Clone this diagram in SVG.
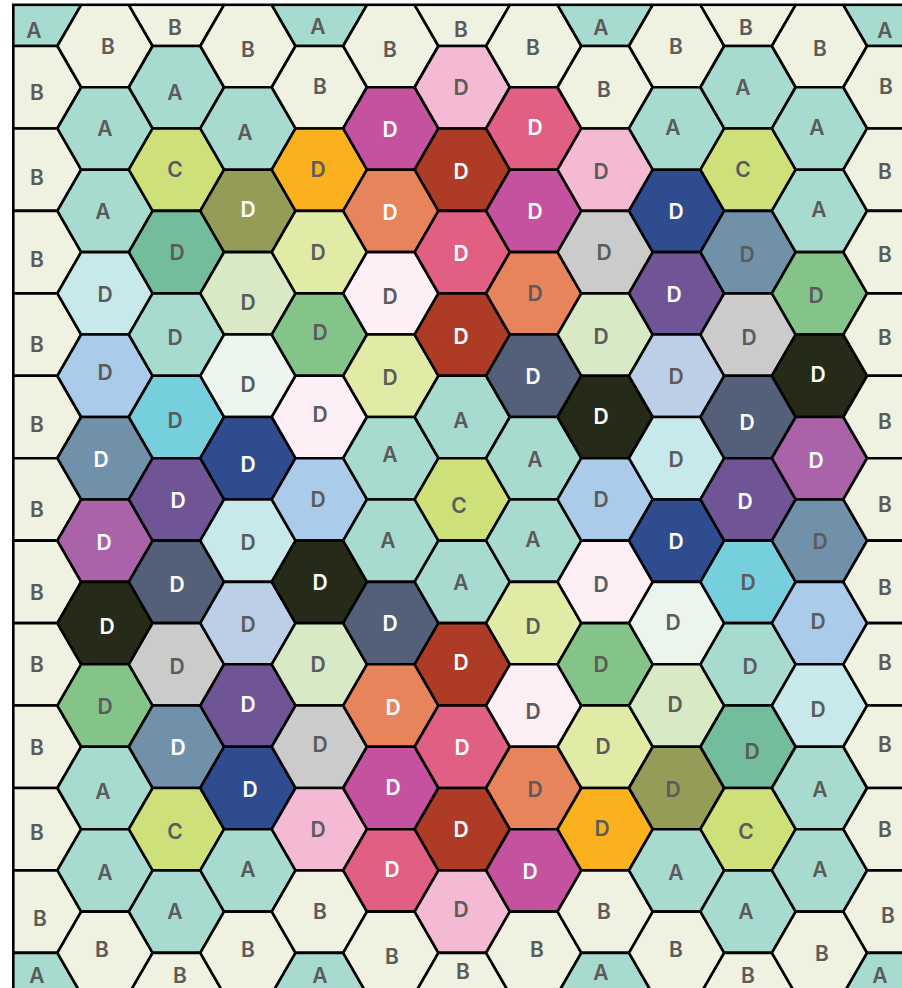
<svg xmlns="http://www.w3.org/2000/svg" xmlns:xlink="http://www.w3.org/1999/xlink" width="902" height="988" viewBox="0 0 902 988">
<style>
use{stroke:#000;stroke-width:2.6;stroke-linejoin:round}
text{font-family:"Inter","Lato","DejaVu Sans",sans-serif;font-size:21px;font-weight:600;fill:#5b5b5b;text-anchor:middle}
text.w{fill:#ffffff}
.A,.mi{fill:#a7dbd0}.B{fill:#eff2e0}.C{fill:#cee07a}
.lc{fill:#c8e9ec}.lb{fill:#aacbea}.sb{fill:#7191ab}.or{fill:#aa63a8}.vd{fill:#262b19}.gr{fill:#85c489}
.tg{fill:#73bd9c}.cy{fill:#75cfdc}.pu{fill:#6f5595}.sd{fill:#546079}.lg{fill:#cbcbcb}.ol{fill:#949c58}
.pg{fill:#d8e9c5}.vg{fill:#ebf5ee}.nv{fill:#2e4c8f}.pw{fill:#bccfe7}.og{fill:#fbb11d}.py{fill:#e2eba6}
.vp{fill:#fdeff5}.lp{fill:#f4bad3}.mg{fill:#c4529f}.sa{fill:#e8845b}.dr{fill:#ae3b26}.pr{fill:#e05f82}
</style>
<defs>
<polygon id="h" points="47.6,0 23.8,41.22 -23.8,41.22 -47.6,0 -23.8,-41.22 23.8,-41.22"/>
<clipPath id="clip"><rect x="13.3" y="4.8" width="950" height="1050"/></clipPath>
</defs>
<g id="cells" clip-path="url(#clip)">
<!-- col 0 -->
<g id="c0-0"><use href="#h" x="33.55" y="4.8" class="A"/><text x="34" y="38">A</text></g>
<g id="c0-1"><use href="#h" x="33.55" y="87.24" class="B"/><text x="37" y="100">B</text></g>
<g id="c0-2"><use href="#h" x="33.55" y="169.68" class="B"/><text x="37" y="185">B</text></g>
<g id="c0-3"><use href="#h" x="33.55" y="252.12" class="B"/><text x="37" y="267">B</text></g>
<g id="c0-4"><use href="#h" x="33.55" y="334.56" class="B"/><text x="37" y="352">B</text></g>
<g id="c0-5"><use href="#h" x="33.55" y="417" class="B"/><text x="37" y="432">B</text></g>
<g id="c0-6"><use href="#h" x="33.55" y="499.44" class="B"/><text x="37" y="517">B</text></g>
<g id="c0-7"><use href="#h" x="33.55" y="581.88" class="B"/><text x="37" y="600">B</text></g>
<g id="c0-8"><use href="#h" x="33.55" y="664.32" class="B"/><text x="37" y="672">B</text></g>
<g id="c0-9"><use href="#h" x="33.55" y="746.76" class="B"/><text x="37" y="755">B</text></g>
<g id="c0-10"><use href="#h" x="33.55" y="829.2" class="B"/><text x="37" y="840">B</text></g>
<g id="c0-11"><use href="#h" x="33.55" y="911.64" class="B"/><text x="40" y="926">B</text></g>
<g id="c0-12"><use href="#h" x="33.55" y="994.08" class="A"/><text x="37" y="983">A</text></g>
<!-- col 1 -->
<g id="c1-0"><use href="#h" x="105" y="46.02" class="B"/><text x="108" y="54">B</text></g>
<g id="c1-1"><use href="#h" x="105" y="128.46" class="A"/><text x="105" y="136">A</text></g>
<g id="c1-2"><use href="#h" x="105" y="210.9" class="A"/><text x="103" y="219">A</text></g>
<g id="c1-3"><use href="#h" x="105" y="293.34" class="lc"/><text x="105" y="302">D</text></g>
<g id="c1-4"><use href="#h" x="105" y="375.78" class="lb"/><text x="105" y="380">D</text></g>
<g id="c1-5"><use href="#h" x="105" y="458.22" class="sb"/><text class="w" x="101" y="467">D</text></g>
<g id="c1-6"><use href="#h" x="105" y="540.66" class="or"/><text class="w" x="104" y="550">D</text></g>
<g id="c1-7"><use href="#h" x="105" y="623.1" class="vd"/><text class="w" x="107" y="634">D</text></g>
<g id="c1-8"><use href="#h" x="105" y="705.54" class="gr"/><text x="105" y="714">D</text></g>
<g id="c1-9"><use href="#h" x="105" y="787.98" class="A"/><text x="103" y="799">A</text></g>
<g id="c1-10"><use href="#h" x="105" y="870.42" class="A"/><text x="105" y="880">A</text></g>
<g id="c1-11"><use href="#h" x="105" y="952.86" class="B"/><text x="102" y="957">B</text></g>
<!-- col 2 -->
<g id="c2-0"><use href="#h" x="176.45" y="4.8" class="B"/><text x="175" y="35">B</text></g>
<g id="c2-1"><use href="#h" x="176.45" y="87.24" class="A"/><text x="175" y="100">A</text></g>
<g id="c2-2"><use href="#h" x="176.45" y="169.68" class="C"/><text x="175" y="177">C</text></g>
<g id="c2-3"><use href="#h" x="176.45" y="252.12" class="tg"/><text x="177" y="260">D</text></g>
<g id="c2-4"><use href="#h" x="176.45" y="334.56" class="mi"/><text x="175" y="345">D</text></g>
<g id="c2-5"><use href="#h" x="176.45" y="417" class="cy"/><text x="175" y="428">D</text></g>
<g id="c2-6"><use href="#h" x="176.45" y="499.44" class="pu"/><text class="w" x="178" y="508">D</text></g>
<g id="c2-7"><use href="#h" x="176.45" y="581.88" class="sd"/><text class="w" x="177" y="592">D</text></g>
<g id="c2-8"><use href="#h" x="176.45" y="664.32" class="lg"/><text x="177" y="674">D</text></g>
<g id="c2-9"><use href="#h" x="176.45" y="746.76" class="sb"/><text class="w" x="178" y="755">D</text></g>
<g id="c2-10"><use href="#h" x="176.45" y="829.2" class="C"/><text x="175" y="839">C</text></g>
<g id="c2-11"><use href="#h" x="176.45" y="911.64" class="A"/><text x="175" y="919">A</text></g>
<g id="c2-12"><use href="#h" x="176.45" y="994.08" class="B"/><text x="180" y="983">B</text></g>
<!-- col 3 -->
<g id="c3-0"><use href="#h" x="247.9" y="46.02" class="B"/><text x="248" y="57">B</text></g>
<g id="c3-1"><use href="#h" x="247.9" y="128.46" class="A"/><text x="245" y="140">A</text></g>
<g id="c3-2"><use href="#h" x="247.9" y="210.9" class="ol"/><text class="w" x="248" y="217">D</text></g>
<g id="c3-3"><use href="#h" x="247.9" y="293.34" class="pg"/><text x="248" y="310">D</text></g>
<g id="c3-4"><use href="#h" x="247.9" y="375.78" class="vg"/><text x="248" y="392">D</text></g>
<g id="c3-5"><use href="#h" x="247.9" y="458.22" class="nv"/><text class="w" x="248" y="472">D</text></g>
<g id="c3-6"><use href="#h" x="247.9" y="540.66" class="lc"/><text x="248" y="550">D</text></g>
<g id="c3-7"><use href="#h" x="247.9" y="623.1" class="pw"/><text x="248" y="632">D</text></g>
<g id="c3-8"><use href="#h" x="247.9" y="705.54" class="pu"/><text class="w" x="248" y="712">D</text></g>
<g id="c3-9"><use href="#h" x="247.9" y="787.98" class="nv"/><text class="w" x="250" y="797">D</text></g>
<g id="c3-10"><use href="#h" x="247.9" y="870.42" class="A"/><text x="248" y="877">A</text></g>
<g id="c3-11"><use href="#h" x="247.9" y="952.86" class="B"/><text x="248" y="957">B</text></g>
<!-- col 4 -->
<g id="c4-0"><use href="#h" x="319.35" y="4.8" class="A"/><text x="318" y="34">A</text></g>
<g id="c4-1"><use href="#h" x="319.35" y="87.24" class="B"/><text x="320" y="94">B</text></g>
<g id="c4-2"><use href="#h" x="319.35" y="169.68" class="og"/><text x="318" y="177">D</text></g>
<g id="c4-3"><use href="#h" x="319.35" y="252.12" class="py"/><text x="318" y="260">D</text></g>
<g id="c4-4"><use href="#h" x="319.35" y="334.56" class="gr"/><text x="320" y="340">D</text></g>
<g id="c4-5"><use href="#h" x="319.35" y="417" class="vp"/><text x="320" y="422">D</text></g>
<g id="c4-6"><use href="#h" x="319.35" y="499.44" class="lb"/><text x="318" y="507">D</text></g>
<g id="c4-7"><use href="#h" x="319.35" y="581.88" class="vd"/><text class="w" x="320" y="590">D</text></g>
<g id="c4-8"><use href="#h" x="319.35" y="664.32" class="pg"/><text x="318" y="672">D</text></g>
<g id="c4-9"><use href="#h" x="319.35" y="746.76" class="lg"/><text x="320" y="752">D</text></g>
<g id="c4-10"><use href="#h" x="319.35" y="829.2" class="lp"/><text x="318" y="837">D</text></g>
<g id="c4-11"><use href="#h" x="319.35" y="911.64" class="B"/><text x="320" y="919">B</text></g>
<g id="c4-12"><use href="#h" x="319.35" y="994.08" class="A"/><text x="320" y="983">A</text></g>
<!-- col 5 -->
<g id="c5-0"><use href="#h" x="390.8" y="46.02" class="B"/><text x="390" y="57">B</text></g>
<g id="c5-1"><use href="#h" x="390.8" y="128.46" class="mg"/><text class="w" x="390" y="137">D</text></g>
<g id="c5-2"><use href="#h" x="390.8" y="210.9" class="sa"/><text class="w" x="390" y="220">D</text></g>
<g id="c5-3"><use href="#h" x="390.8" y="293.34" class="vp"/><text x="390" y="304">D</text></g>
<g id="c5-4"><use href="#h" x="390.8" y="375.78" class="py"/><text x="390" y="385">D</text></g>
<g id="c5-5"><use href="#h" x="390.8" y="458.22" class="A"/><text x="390" y="462">A</text></g>
<g id="c5-6"><use href="#h" x="390.8" y="540.66" class="A"/><text x="388" y="548">A</text></g>
<g id="c5-7"><use href="#h" x="390.8" y="623.1" class="sd"/><text class="w" x="390" y="631">D</text></g>
<g id="c5-8"><use href="#h" x="390.8" y="705.54" class="sa"/><text class="w" x="393" y="715">D</text></g>
<g id="c5-9"><use href="#h" x="390.8" y="787.98" class="mg"/><text class="w" x="393" y="795">D</text></g>
<g id="c5-10"><use href="#h" x="390.8" y="870.42" class="pr"/><text class="w" x="392" y="877">D</text></g>
<g id="c5-11"><use href="#h" x="390.8" y="952.86" class="B"/><text x="392" y="964">B</text></g>
<!-- col 6 -->
<g id="c6-0"><use href="#h" x="462.25" y="4.8" class="B"/><text x="461" y="37">B</text></g>
<g id="c6-1"><use href="#h" x="462.25" y="87.24" class="lp"/><text x="461" y="95">D</text></g>
<g id="c6-2"><use href="#h" x="462.25" y="169.68" class="dr"/><text class="w" x="461" y="179">D</text></g>
<g id="c6-3"><use href="#h" x="462.25" y="252.12" class="pr"/><text class="w" x="461" y="261">D</text></g>
<g id="c6-4"><use href="#h" x="462.25" y="334.56" class="dr"/><text class="w" x="461" y="344">D</text></g>
<g id="c6-5"><use href="#h" x="462.25" y="417" class="A"/><text x="461" y="428">A</text></g>
<g id="c6-6"><use href="#h" x="462.25" y="499.44" class="C"/><text x="459" y="513">C</text></g>
<g id="c6-7"><use href="#h" x="462.25" y="581.88" class="A"/><text x="461" y="590">A</text></g>
<g id="c6-8"><use href="#h" x="462.25" y="664.32" class="dr"/><text class="w" x="461" y="670">D</text></g>
<g id="c6-9"><use href="#h" x="462.25" y="746.76" class="pr"/><text class="w" x="462" y="755">D</text></g>
<g id="c6-10"><use href="#h" x="462.25" y="829.2" class="dr"/><text class="w" x="461" y="837">D</text></g>
<g id="c6-11"><use href="#h" x="462.25" y="911.64" class="lp"/><text x="461" y="917">D</text></g>
<g id="c6-12"><use href="#h" x="462.25" y="994.08" class="B"/><text x="463" y="979">B</text></g>
<!-- col 7 -->
<g id="c7-0"><use href="#h" x="533.7" y="46.02" class="B"/><text x="533" y="55">B</text></g>
<g id="c7-1"><use href="#h" x="533.7" y="128.46" class="pr"/><text class="w" x="535" y="135">D</text></g>
<g id="c7-2"><use href="#h" x="533.7" y="210.9" class="mg"/><text class="w" x="535" y="219">D</text></g>
<g id="c7-3"><use href="#h" x="533.7" y="293.34" class="sa"/><text x="535" y="301">D</text></g>
<g id="c7-4"><use href="#h" x="533.7" y="375.78" class="sd"/><text class="w" x="533" y="384">D</text></g>
<g id="c7-5"><use href="#h" x="533.7" y="458.22" class="A"/><text x="535" y="467">A</text></g>
<g id="c7-6"><use href="#h" x="533.7" y="540.66" class="A"/><text x="533" y="547">A</text></g>
<g id="c7-7"><use href="#h" x="533.7" y="623.1" class="py"/><text x="533" y="634">D</text></g>
<g id="c7-8"><use href="#h" x="533.7" y="705.54" class="vp"/><text x="533" y="719">D</text></g>
<g id="c7-9"><use href="#h" x="533.7" y="787.98" class="sa"/><text x="535" y="797">D</text></g>
<g id="c7-10"><use href="#h" x="533.7" y="870.42" class="mg"/><text class="w" x="530" y="879">D</text></g>
<g id="c7-11"><use href="#h" x="533.7" y="952.86" class="B"/><text x="537" y="957">B</text></g>
<!-- col 8 -->
<g id="c8-0"><use href="#h" x="605.15" y="4.8" class="A"/><text x="601" y="35">A</text></g>
<g id="c8-1"><use href="#h" x="605.15" y="87.24" class="B"/><text x="604" y="97">B</text></g>
<g id="c8-2"><use href="#h" x="605.15" y="169.68" class="lp"/><text x="601" y="179">D</text></g>
<g id="c8-3"><use href="#h" x="605.15" y="252.12" class="lg"/><text x="604" y="260">D</text></g>
<g id="c8-4"><use href="#h" x="605.15" y="334.56" class="pg"/><text x="601" y="344">D</text></g>
<g id="c8-5"><use href="#h" x="605.15" y="417" class="vd"/><text class="w" x="601" y="424">D</text></g>
<g id="c8-6"><use href="#h" x="605.15" y="499.44" class="lb"/><text x="601" y="507">D</text></g>
<g id="c8-7"><use href="#h" x="605.15" y="581.88" class="vp"/><text x="601" y="592">D</text></g>
<g id="c8-8"><use href="#h" x="605.15" y="664.32" class="gr"/><text x="601" y="672">D</text></g>
<g id="c8-9"><use href="#h" x="605.15" y="746.76" class="py"/><text x="603" y="754">D</text></g>
<g id="c8-10"><use href="#h" x="605.15" y="829.2" class="og"/><text x="602" y="836">D</text></g>
<g id="c8-11"><use href="#h" x="605.15" y="911.64" class="B"/><text x="604" y="919">B</text></g>
<g id="c8-12"><use href="#h" x="605.15" y="994.08" class="A"/><text x="601" y="980">A</text></g>
<!-- col 9 -->
<g id="c9-0"><use href="#h" x="676.6" y="46.02" class="B"/><text x="676" y="54">B</text></g>
<g id="c9-1"><use href="#h" x="676.6" y="128.46" class="A"/><text x="673" y="135">A</text></g>
<g id="c9-2"><use href="#h" x="676.6" y="210.9" class="nv"/><text class="w" x="676" y="219">D</text></g>
<g id="c9-3"><use href="#h" x="676.6" y="293.34" class="pu"/><text class="w" x="674" y="302">D</text></g>
<g id="c9-4"><use href="#h" x="676.6" y="375.78" class="pw"/><text x="676" y="384">D</text></g>
<g id="c9-5"><use href="#h" x="676.6" y="458.22" class="lc"/><text x="676" y="467">D</text></g>
<g id="c9-6"><use href="#h" x="676.6" y="540.66" class="nv"/><text class="w" x="676" y="549">D</text></g>
<g id="c9-7"><use href="#h" x="676.6" y="623.1" class="vg"/><text x="673" y="630">D</text></g>
<g id="c9-8"><use href="#h" x="676.6" y="705.54" class="pg"/><text x="675" y="712">D</text></g>
<g id="c9-9"><use href="#h" x="676.6" y="787.98" class="ol"/><text x="673" y="797">D</text></g>
<g id="c9-10"><use href="#h" x="676.6" y="870.42" class="A"/><text x="676" y="880">A</text></g>
<g id="c9-11"><use href="#h" x="676.6" y="952.86" class="B"/><text x="676" y="957">B</text></g>
<!-- col 10 -->
<g id="c10-0"><use href="#h" x="748.05" y="4.8" class="B"/><text x="746" y="35">B</text></g>
<g id="c10-1"><use href="#h" x="748.05" y="87.24" class="A"/><text x="743" y="95">A</text></g>
<g id="c10-2"><use href="#h" x="748.05" y="169.68" class="C"/><text x="743" y="177">C</text></g>
<g id="c10-3"><use href="#h" x="748.05" y="252.12" class="sb"/><text x="747" y="262">D</text></g>
<g id="c10-4"><use href="#h" x="748.05" y="334.56" class="lg"/><text x="749" y="345">D</text></g>
<g id="c10-5"><use href="#h" x="748.05" y="417" class="sd"/><text class="w" x="747" y="430">D</text></g>
<g id="c10-6"><use href="#h" x="748.05" y="499.44" class="pu"/><text class="w" x="745" y="509">D</text></g>
<g id="c10-7"><use href="#h" x="748.05" y="581.88" class="cy"/><text x="748" y="590">D</text></g>
<g id="c10-8"><use href="#h" x="748.05" y="664.32" class="mi"/><text x="750" y="674">D</text></g>
<g id="c10-9"><use href="#h" x="748.05" y="746.76" class="tg"/><text x="752" y="759">D</text></g>
<g id="c10-10"><use href="#h" x="748.05" y="829.2" class="C"/><text x="746" y="839">C</text></g>
<g id="c10-11"><use href="#h" x="748.05" y="911.64" class="A"/><text x="746" y="919">A</text></g>
<g id="c10-12"><use href="#h" x="748.05" y="994.08" class="B"/><text x="748" y="983">B</text></g>
<!-- col 11 -->
<g id="c11-0"><use href="#h" x="819.5" y="46.02" class="B"/><text x="820" y="56">B</text></g>
<g id="c11-1"><use href="#h" x="819.5" y="128.46" class="A"/><text x="817" y="135">A</text></g>
<g id="c11-2"><use href="#h" x="819.5" y="210.9" class="A"/><text x="819" y="217">A</text></g>
<g id="c11-3"><use href="#h" x="819.5" y="293.34" class="gr"/><text x="816" y="303">D</text></g>
<g id="c11-4"><use href="#h" x="819.5" y="375.78" class="vd"/><text class="w" x="818" y="382">D</text></g>
<g id="c11-5"><use href="#h" x="819.5" y="458.22" class="or"/><text class="w" x="816" y="468">D</text></g>
<g id="c11-6"><use href="#h" x="819.5" y="540.66" class="sb"/><text x="820" y="549">D</text></g>
<g id="c11-7"><use href="#h" x="819.5" y="623.1" class="lb"/><text x="818" y="629">D</text></g>
<g id="c11-8"><use href="#h" x="819.5" y="705.54" class="lc"/><text x="818" y="717">D</text></g>
<g id="c11-9"><use href="#h" x="819.5" y="787.98" class="A"/><text x="820" y="797">A</text></g>
<g id="c11-10"><use href="#h" x="819.5" y="870.42" class="A"/><text x="820" y="877">A</text></g>
<g id="c11-11"><use href="#h" x="819.5" y="952.86" class="B"/><text x="822" y="961">B</text></g>
<!-- col 12 -->
<g id="c12-0"><use href="#h" x="890.95" y="4.8" class="A"/><text x="885" y="38">A</text></g>
<g id="c12-1"><use href="#h" x="890.95" y="87.24" class="B"/><text x="886" y="94">B</text></g>
<g id="c12-2"><use href="#h" x="890.95" y="169.68" class="B"/><text x="885" y="179">B</text></g>
<g id="c12-3"><use href="#h" x="890.95" y="252.12" class="B"/><text x="885" y="262">B</text></g>
<g id="c12-4"><use href="#h" x="890.95" y="334.56" class="B"/><text x="885" y="345">B</text></g>
<g id="c12-5"><use href="#h" x="890.95" y="417" class="B"/><text x="885" y="429">B</text></g>
<g id="c12-6"><use href="#h" x="890.95" y="499.44" class="B"/><text x="885" y="512">B</text></g>
<g id="c12-7"><use href="#h" x="890.95" y="581.88" class="B"/><text x="885" y="595">B</text></g>
<g id="c12-8"><use href="#h" x="890.95" y="664.32" class="B"/><text x="885" y="670">B</text></g>
<g id="c12-9"><use href="#h" x="890.95" y="746.76" class="B"/><text x="885" y="752">B</text></g>
<g id="c12-10"><use href="#h" x="890.95" y="829.2" class="B"/><text x="885" y="837">B</text></g>
<g id="c12-11"><use href="#h" x="890.95" y="911.64" class="B"/><text x="888" y="923">B</text></g>
<g id="c12-12"><use href="#h" x="890.95" y="994.08" class="A"/><text x="880" y="983">A</text></g>
</g>
<rect id="frame" x="13.3" y="4.8" width="950" height="1050" fill="none" stroke="#000" stroke-width="2.6"/>
</svg>
